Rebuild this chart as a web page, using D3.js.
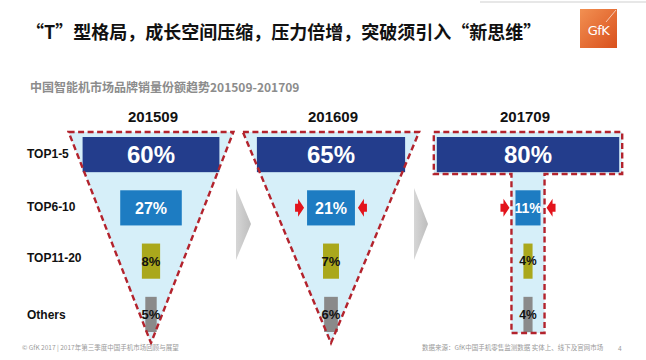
<!DOCTYPE html>
<html><head><meta charset="utf-8">
<script src="https://cdn.jsdelivr.net/npm/d3@7"></script>
<style>
html,body{margin:0;padding:0;background:#fff;}
svg{display:block;}
</style></head>
<body><div id="chart"></div>
<script>
// ---------- data ----------
const title = "“T”型格局，成长空间压缩，压力倍增，突破须引入“新思维”";
const subtitle = "中国智能机市场品牌销量份额趋势201509-201709";
const periods = ["201509", "201609", "201709"];
const groups = ["TOP1-5", "TOP6-10", "TOP11-20", "Others"];
const share201509 = [60, 27, 8, 5];
const share201609 = [65, 21, 7, 6];
const share201709 = [80, 11, 4, 4];
const shapes = ["triangle", "triangle", "T"];
const squeezed = [false, true, true]; // red arrows on TOP6-10
const footerLeft = "© GfK 2017 | 2017年第三季度中国手机市场回顾与展望";
const footerRight = "数据来源：GfK中国手机零售监测数据 实体上、线下及官网市场";
const pageNo = "4";

const series = [share201509, share201609, share201709];
const barColors = ["#233d8c", "#1d7cc2", "#aaa81c", "#8a8a8a"];
const textColors = ["#ffffff", "#ffffff", "#111111", "#111111"];
const fontSizes = [[24, 16, 13, 13], [24, 16, 13, 13], [24, 14, 12, 12]];

// ---------- layout ----------
const W = 646, H = 360;
const svg = d3.select("#chart").append("svg").attr("width", W).attr("height", H)
  .style("font-family", "'Liberation Sans', Arial, sans-serif");

const xPanel = d3.scaleOrdinal().domain(periods).range([151, 331, 528]);
const wScale = d3.scaleLinear().domain([0, 100]).range([0, 228]);
const yRow = d3.scaleBand().domain(groups).range([137, 332]).paddingInner(0.34).paddingOuter(0);

const topY = 132, apexY = 343;
const red = "#b3232d";

// top-right thin line
svg.append("line").attr("x1", 480).attr("x2", 646).attr("y1", 2).attr("y2", 2)
  .attr("stroke", "#cfcfcf").attr("stroke-width", 1);

// title
svg.append("text").attr("x", 26).attr("y", 39).text(title)
  .attr("font-family", "'Noto Sans CJK SC', sans-serif").attr("font-weight", 700)
  .attr("font-size", 18).attr("fill", "#111");

// GfK logo
const defs = svg.append("defs");
const lg = defs.append("linearGradient").attr("id", "gfk").attr("x1", 0).attr("y1", 0).attr("x2", 1).attr("y2", 1);
lg.append("stop").attr("offset", "0%").attr("stop-color", "#f29052");
lg.append("stop").attr("offset", "100%").attr("stop-color", "#d9501c");
svg.append("rect").attr("x", 580).attr("y", 9).attr("width", 37).attr("height", 39).attr("fill", "url(#gfk)");
svg.append("text").attr("x", 598.5).attr("y", 35).attr("text-anchor", "middle")
  .attr("font-family", "'DejaVu Sans', sans-serif").attr("font-size", 13).attr("fill", "#fff")
  .attr("letter-spacing", -0.5).text("GfK");
svg.append("line").attr("x1", 606).attr("y1", 22).attr("x2", 616).attr("y2", 10)
  .attr("stroke", "#fff").attr("stroke-width", 0.8).attr("opacity", 0.8);

// subtitle
svg.append("text").attr("x", 30).attr("y", 92).text(subtitle)
  .attr("font-family", "'Noto Sans CJK SC', sans-serif").attr("font-weight", 700)
  .attr("font-size", 12).attr("fill", "#8c8c8c");

// row labels
svg.append("g").selectAll("text").data(groups).join("text")
  .attr("x", 27).attr("y", d => yRow(d) + yRow.bandwidth() / 2 + 3)
  .attr("font-size", 12).attr("font-weight", 700).attr("fill", "#111")
  .attr("dy", (d, i) => [0, 0, -2, 2][i])
  .text(d => d);

// gray chevrons between panels
const cg = defs.append("linearGradient").attr("id", "chev").attr("x1", 0).attr("y1", 0).attr("x2", 1).attr("y2", 0);
cg.append("stop").attr("offset", "0%").attr("stop-color", "#d6d6d6");
cg.append("stop").attr("offset", "100%").attr("stop-color", "#bdbdbd");
[[236, 251], [414, 428]].forEach(([a, b]) => {
  svg.append("path").attr("d", `M${a},188 L${b},224 L${a},260 Z`).attr("fill", "url(#chev)");
});

// panels
periods.forEach((p, pi) => {
  const cx = xPanel(p);
  const vals = series[pi];
  const g = svg.append("g");
  let shapePath;
  if (shapes[pi] === "triangle") {
    const half = wScale(vals[0]) / 2 + 14;
    shapePath = `M${cx - half},${topY} L${cx + half},${topY} L${cx},${apexY} Z`;
  } else {
    const half = wScale(vals[0]) / 2 + 3;
    const sh = wScale(vals[1]) / 2 + 4;
    const midY = 174, botY = 333;
    shapePath = `M${cx - half},${topY} L${cx + half},${topY} L${cx + half},${midY} L${cx + sh},${midY} L${cx + sh},${botY} L${cx - sh},${botY} L${cx - sh},${midY} L${cx - half},${midY} Z`;
  }
  g.append("path").attr("d", shapePath).attr("fill", "#d6eff9");

  // period label
  g.append("text").attr("x", cx + [2, 2, -3][pi]).attr("y", 122).attr("text-anchor", "middle")
    .attr("font-size", 15).attr("font-weight", 700).attr("fill", "#111").text(p);

  // bars
  g.selectAll("rect.bar").data(vals).join("rect").attr("class", "bar")
    .attr("x", d => cx - wScale(d) / 2)
    .attr("y", (d, i) => yRow(groups[i]))
    .attr("width", d => wScale(d))
    .attr("height", yRow.bandwidth())
    .attr("fill", (d, i) => barColors[i]);

  // dashed outline
  g.append("path").attr("d", shapePath).attr("fill", "none")
    .attr("stroke", red).attr("stroke-width", 2.4).attr("stroke-dasharray", "6,3.5");

  // labels
  g.selectAll("text.val").data(vals).join("text").attr("class", "val")
    .attr("x", cx)
    .attr("y", (d, i) => yRow(groups[i]) + yRow.bandwidth() / 2)
    .attr("dy", "0.36em")
    .attr("text-anchor", "middle")
    .attr("font-weight", 700)
    .attr("font-size", (d, i) => fontSizes[pi][i])
    .attr("fill", (d, i) => textColors[i])
    .text(d => d + "%");

  // red squeeze arrows
  if (squeezed[pi]) {
    const yc = yRow(groups[1]) + yRow.bandwidth() / 2;
    const inner = shapes[pi] === "T" ? wScale(vals[1]) / 2 + 6 : wScale(vals[1]) / 2 + 3;
    [-1, 1].forEach(s => {
      const tip = cx + s * inner;
      const hb = tip + s * 6, tail = tip + s * 9;
      g.append("path")
        .attr("d", `M${tip},${yc} L${hb},${yc - 9} L${hb},${yc - 4} L${tail},${yc - 4} L${tail},${yc + 4} L${hb},${yc + 4} L${hb},${yc + 9} Z`)
        .attr("fill", "#e3141c");
    });
  }
});

// footers
svg.append("text").attr("x", 22).attr("y", 350).attr("font-size", 6.5).attr("fill", "#9a9a9a")
  .attr("font-family", "'Noto Sans CJK SC', sans-serif").text(footerLeft);
svg.append("text").attr("x", 422).attr("y", 350).attr("font-size", 6.5).attr("fill", "#9a9a9a")
  .attr("font-family", "'Noto Sans CJK SC', sans-serif").text(footerRight);
svg.append("text").attr("x", 618).attr("y", 351).attr("font-size", 6.5).attr("fill", "#9a9a9a").text(pageNo);
</script></body></html>
